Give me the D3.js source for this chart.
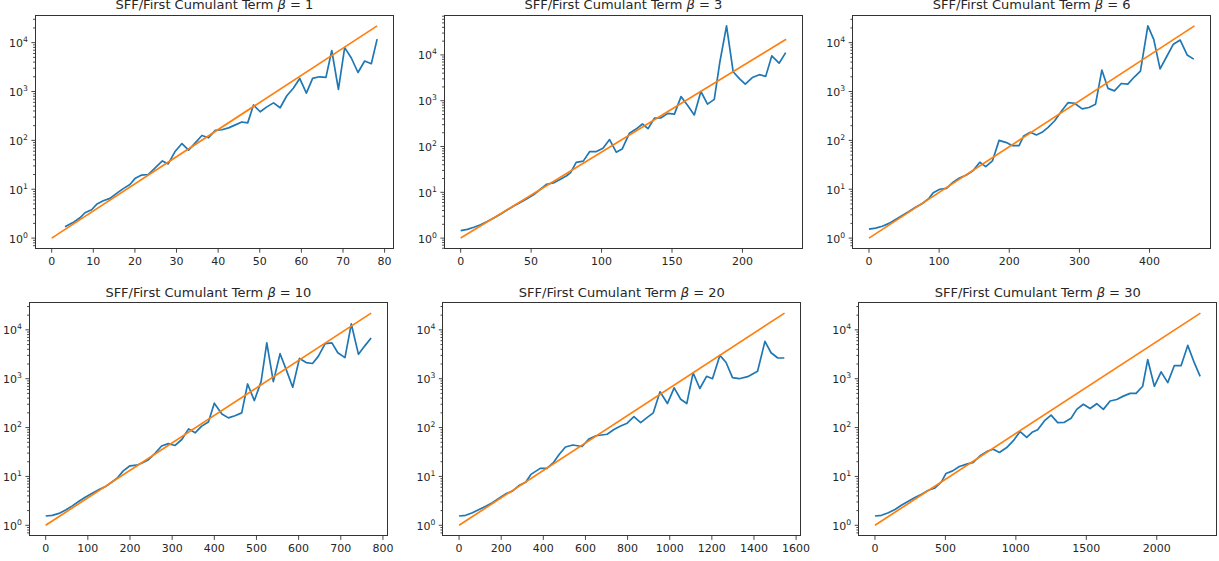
<html>
<head>
<title>SFF / first cumulant term</title>
<meta charset="utf-8">
<style type="text/css">
* { margin: 0; padding: 0; }
body { background: #fff; }
text { font-family: "DejaVu Sans", sans-serif; fill: #262626; }
.spine { fill: none; stroke: #333; stroke-width: 1; shape-rendering: crispEdges; }
.tick { stroke: #333; stroke-width: 0.9; }
</style>
<script src="https://cdn.jsdelivr.net/npm/d3@7"></script>
<script type="text/javascript">
// beta values, one panel each
var betas = [1, 3, 6, 10, 20, 30];

// x tick labels per panel
var xTicks1 = [0, 10, 20, 30, 40, 50, 60, 70, 80];
var xTicks3 = [0, 50, 100, 150, 200];
var xTicks6 = [0, 100, 200, 300, 400];
var xTicks10 = [0, 100, 200, 300, 400, 500, 600, 700, 800];
var xTicks20 = [0, 200, 400, 600, 800, 1000, 1200, 1400, 1600];
var xTicks30 = [0, 500, 1000, 1500, 2000];

// y major ticks (log)
var yMajor = [1, 10, 100, 1000, 10000];

// SFF / first cumulant term, [t, value]
var sff1 = [[3.2,1.7],[5,2.05],[6.8,2.6],[8,3.3],[9.6,3.8],[10.8,4.9],[12.4,5.8],[14,6.5],[15.6,8.2],[17.2,10.3],
  [18.8,12.5],[20,16.5],[21.6,19.5],[23.2,20],[24.8,27],[26.6,38],[28,33],[29.7,60],[31.3,86],[32.9,63],
  [34.5,89],[36.1,126],[37.7,113],[39.3,160],[40.9,165],[42.5,180],[44,205],[45.7,238],[47.1,228],[48.5,530],
  [50.1,385],[51.7,485],[53.3,585],[54.9,465],[56.5,820],[58.1,1180],[59.6,1850],[61.2,930],[62.7,1850],[64.3,2000],
  [65.9,1950],[67.3,6900],[68.9,1100],[70.4,7900],[72,4850],[73.6,2450],[75.2,4200],[76.8,3700],[78.2,11800]];

var sff3 = [[0,1.45],[4.7,1.55],[9.4,1.72],[14.1,1.95],[18.8,2.3],[23.5,2.75],[28.2,3.3],[32.9,4.1],[37.6,5.0],[42.3,6.0],
  [47,7.2],[51.7,8.8],[56.4,11.5],[61.1,15],[65.8,16],[70.5,19],[75.2,23],[78,27],[82,45],[87,48],
  [91.5,77],[96,77],[101,92],[105.7,142],[110.4,75],[114.6,88],[119.8,195],[124.5,240],[129,310],[133,245],
  [137.5,415],[142,420],[147,530],[151.7,510],[156.4,1230],[161,800],[165.8,490],[170.5,1590],[175.2,840],[180,1070],
  [184,7100],[188.7,43000],[193.4,4300],[198,3000],[202,2300],[207,3200],[212,3700],[216.5,3400],[220.8,9500],[226,6600],
  [230.7,11200]];

var sff6 = [[0,1.53],[9.5,1.6],[19,1.75],[28.5,2.0],[38,2.4],[47.5,2.9],[57,3.5],[66.5,4.3],[76,5.1],[85.5,6.5],
  [91.6,8.5],[101,10],[110.5,10.4],[120,14],[129,17],[139,19.5],[148.5,24],[158,35.6],[166.5,29],[176,38],
  [185.5,100],[196,90],[204.5,78],[214,78],[220.6,123],[230,146],[238.7,129],[246.7,146],[255,182],[264.8,252],
  [275.7,420],[283.7,590],[293,575],[304,440],[313.6,470],[323,550],[332,2750],[340.7,1160],[350,1030],[359.7,1460],
  [369,1420],[378.6,2000],[387,2600],[397.6,22000],[406,11700],[415,2900],[424.5,5200],[434,9300],[443.7,11300],[453.6,5600],
  [463,4600]];

var sff10 = [[0,1.55],[15.8,1.6],[31.6,1.75],[47.4,2.05],[63.2,2.5],[79,3.1],[94.8,3.8],[110.6,4.5],[129,5.5],[142,6.2],
  [158,7.8],[170,9.3],[184,13],[200,16.5],[216,17],[230,19],[244,22],[260,30],[275,42],[291,47],
  [307,43],[323,57],[339,94],[354.5,78],[370,107],[386,130],[400,316],[418,190],[433.5,158],[449,175],
  [465,200],[479,780],[495,357],[511,870],[524.5,5400],[540,870],[556,3250],[571,1500],[586,670],[602,2600],
  [618,2140],[633,2050],[647,2900],[663,5200],[679,5400],[693,3400],[710,2700],[725,13200],[742,3150],[757,4700],
  [772,6800]];

var sff20 = [[0,1.55],[31.6,1.6],[63.3,1.8],[95,2.1],[126.5,2.45],[158,2.9],[190,3.6],[221,4.4],[253,5.0],[284,6.5],
  [316,7.6],[341,11],[385,14.6],[417,14.6],[449,19.5],[475,28],[505,40],[540,44],[584,41],[616,58],
  [650,68],[703,73],[735,91],[767,108],[798,123],[830,167],[862,126],[892,160],[922,200],[954,540],
  [989,310],[1021,650],[1052,380],[1081,310],[1111,1320],[1143,630],[1175,1120],[1203,1000],[1238,3000],[1267,2170],
  [1298,1050],[1330,1000],[1370,1100],[1417,1420],[1452,5800],[1481,3400],[1513,2650],[1544,2650]];

var sff30 = [[0,1.55],[47,1.6],[95,1.8],[142,2.1],[190,2.6],[237,3.1],[284,3.7],[331,4.3],[379,5.2],[426,5.8],
  [473,7.8],[504,11.5],[551,13],[599,16],[651,17.9],[698,19.4],[746,26.5],[805,33.5],[840,36],[883,31],
  [935,39],[982,54],[1030,83],[1077,63],[1115,80],[1155,90],[1202,137],[1250,180],[1297,126],[1344,128],
  [1392,155],[1432,236],[1479,300],[1527,245],[1574,308],[1621,236],[1669,350],[1716,375],[1763,440],[1811,500],
  [1853,500],[1900,700],[1936,2450],[1983,700],[2031,1380],[2078,830],[2125,1860],[2173,1860],[2220,4800],[2267,2100],
  [2308,1120]];

// exponential reference line: from (0, 1) to (fitEndX, fitEndY)
var fitEndX = [78.2, 231, 464, 772, 1545, 2310];
var fitEndY = [22000, 22000, 22000, 22000, 22000, 22000];

var series = [sff1, sff3, sff6, sff10, sff20, sff30];
var xTickSets = [xTicks1, xTicks3, xTicks6, xTicks10, xTicks20, xTicks30];

window.onload = function() {
  var W = 1219, H = 561;
  var axW = 358, axH = 233.4;
  // axes placement (left, top)
  var boxes = [[35.4, 15.3], [444.4, 15.3], [852.7, 15.3],
               [29.4, 302.5], [442.8, 302.5], [858.7, 302.5]];

  var svg = d3.select("#chart").append("svg")
    .attr("width", W).attr("height", H);

  betas.forEach(function(beta, i) {
    var l = boxes[i][0], t = boxes[i][1];
    var data = series[i];
    var fit = [[0, 1], [fitEndX[i], fitEndY[i]]];
    var all = data.concat(fit);

    var xmin = d3.min(all, function(d) { return d[0]; });
    var xmax = d3.max(all, function(d) { return d[0]; });
    var xm = (xmax - xmin) * 0.05;
    var x = d3.scaleLinear().domain([xmin - xm, xmax + xm]).range([l, l + axW]);

    var lmin = Math.log10(d3.min(all, function(d) { return d[1]; }));
    var lmax = Math.log10(d3.max(all, function(d) { return d[1]; }));
    var lm = (lmax - lmin) * 0.05;
    var y = d3.scaleLog().domain([Math.pow(10, lmin - lm), Math.pow(10, lmax + lm)]).range([t + axH, t]);

    var g = svg.append("g");

    var clipId = "clip" + i;
    g.append("clipPath").attr("id", clipId)
      .append("rect").attr("x", l).attr("y", t).attr("width", axW).attr("height", axH);

    var line = d3.line().x(function(d) { return x(d[0]); }).y(function(d) { return y(d[1]); });

    var plot = g.append("g").attr("clip-path", "url(#" + clipId + ")");
    plot.append("path").datum(data).attr("d", line)
      .attr("fill", "none").attr("stroke", "#1f77b4").attr("stroke-width", 1.7)
      .attr("stroke-linejoin", "round");
    plot.append("path").datum(fit).attr("d", line)
      .attr("fill", "none").attr("stroke", "#ff7f0e").attr("stroke-width", 1.7);

    // spines
    g.append("rect").attr("class", "spine")
      .attr("x", l).attr("y", t).attr("width", axW).attr("height", axH);

    // x ticks
    xTickSets[i].forEach(function(v) {
      var px = x(v);
      g.append("line").attr("class", "tick")
        .attr("x1", px).attr("x2", px).attr("y1", t + axH).attr("y2", t + axH + 4);
      g.append("text").attr("x", px).attr("y", t + axH + 7.5).attr("dy", "0.76em")
        .attr("text-anchor", "middle").attr("font-size", 11).text(v);
    });

    // y minor ticks
    var dom = y.domain();
    for (var d = Math.floor(Math.log10(dom[0])); d <= Math.ceil(Math.log10(dom[1])); d++) {
      for (var k = 2; k <= 9; k++) {
        var v = k * Math.pow(10, d);
        if (v < dom[0] || v > dom[1]) continue;
        g.append("line").attr("class", "tick")
          .attr("x1", l - 2.3).attr("x2", l).attr("y1", y(v)).attr("y2", y(v))
          .attr("stroke-width", 0.7);
      }
    }
    // y major ticks
    yMajor.forEach(function(v) {
      if (v < dom[0] || v > dom[1]) return;
      var py = y(v);
      g.append("line").attr("class", "tick")
        .attr("x1", l - 4).attr("x2", l).attr("y1", py).attr("y2", py);
      var txt = g.append("text").attr("x", l - 7.5).attr("y", py + 4.5)
        .attr("text-anchor", "end").attr("font-size", 11);
      txt.append("tspan").text("10");
      txt.append("tspan").attr("font-size", 7.7).attr("dy", -5).text(Math.round(Math.log10(v)));
    });

    // title
    var title = g.append("text").attr("x", l + axW / 2).attr("y", t - 6)
      .attr("text-anchor", "middle").attr("font-size", 13);
    title.append("tspan").text("SFF/First Cumulant Term ");
    title.append("tspan").attr("font-style", "italic").text("\u03b2");
    title.append("tspan").text(" = " + beta);
  });
};
</script>
</head>
<body>
<div id="chart"></div>
</body>
</html>
